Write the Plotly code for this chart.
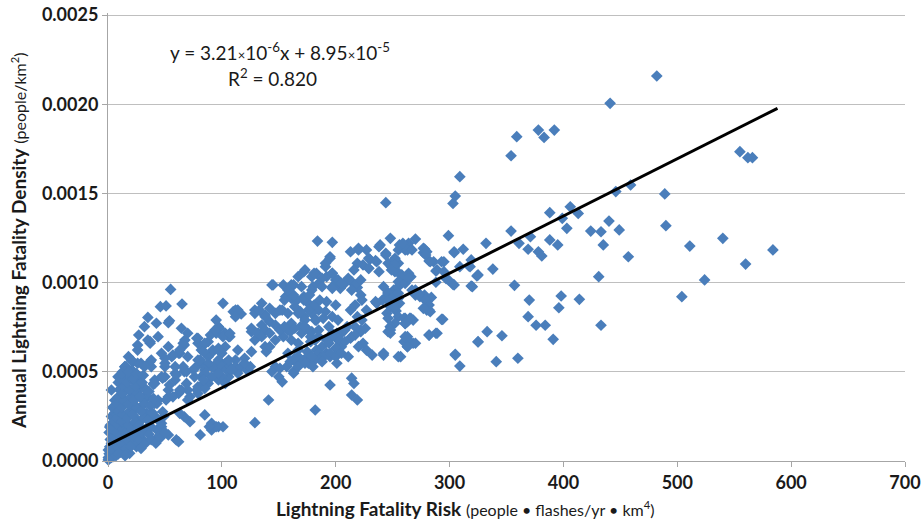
import plotly.graph_objects as go

# Regression line (from the chart's equation)
slope = 3.21e-6
intercept = 8.95e-5
fit_x = [0, 588]

x_ticks = [0, 100, 200, 300, 400, 500, 600, 700]
y_ticks = [0.0, 0.0005, 0.0010, 0.0015, 0.0020, 0.0025]

# Points: (risk, density)
sparse_pts = [
    (441, 20.05e-4), (378, 18.55e-4), (383, 18.14e-4), (392, 18.55e-4), (359, 18.18e-4), (354, 17.11e-4),
    (309, 15.94e-4), (305, 14.85e-4), (303, 14.44e-4), (244, 14.48e-4), (354, 12.89e-4), (388, 13.92e-4),
    (406, 14.25e-4), (413, 13.88e-4), (399, 13.6e-4), (403, 13.04e-4), (424, 12.89e-4), (433, 12.85e-4),
    (435, 12.11e-4), (440, 13.45e-4), (431, 10.33e-4), (433, 7.61e-4), (388, 12.39e-4), (395, 12.11e-4),
    (361, 12.2e-4), (369, 11.87e-4), (378, 11.73e-4), (381, 11.49e-4), (371, 12.57e-4), (332, 12.2e-4),
    (338, 10.76e-4), (324, 10.37e-4), (319, 9.81e-4), (357, 9.85e-4), (370, 9.02e-4), (369, 8.09e-4),
    (376, 7.61e-4), (384, 7.61e-4), (391, 6.82e-4), (398, 9.25e-4), (396, 8.59e-4), (414, 9.06e-4),
    (333, 7.25e-4), (325, 6.67e-4), (346, 7.02e-4), (305, 5.98e-4), (309, 5.32e-4), (341, 5.57e-4),
    (360, 5.76e-4), (294, 7.94e-4), (299, 12.63e-4), (304, 11.73e-4), (312, 11.87e-4), (319, 11.27e-4),
    (482, 21.58e-4), (555, 17.34e-4), (562, 17.0e-4), (566, 17.0e-4), (459, 15.47e-4), (446, 15.1e-4),
    (489, 14.97e-4), (449, 12.95e-4), (490, 13.19e-4), (457, 11.45e-4), (511, 12.05e-4), (540, 12.48e-4),
    (584, 11.83e-4), (560, 11.04e-4), (524, 10.15e-4), (504, 9.21e-4),
]

upper_pts = [
    (270, 12.44e-4), (278, 11.88e-4), (277, 11.68e-4), (282, 11.21e-4), (286, 11.17e-4), (295, 11.17e-4),
    (288, 10.65e-4), (288, 10.02e-4), (297, 10.22e-4), (303, 9.9e-4), (309, 10.89e-4), (317, 10.93e-4),
    (257, 5.85e-4), (242, 5.94e-4), (232, 5.94e-4), (263, 6.97e-4), (268, 6.6e-4), (263, 6.41e-4),
    (260, 6.69e-4), (261, 8.0e-4), (266, 8.0e-4), (268, 7.9e-4), (261, 7.7e-4), (282, 7.06e-4),
    (288, 7.16e-4), (280, 8.93e-4), (282, 8.46e-4), (284, 9.17e-4), (278, 9.3e-4), (270, 9.58e-4),
    (273, 9.4e-4), (246, 9.3e-4), (251, 9.58e-4), (255, 9.77e-4), (261, 10.05e-4), (266, 10.33e-4),
    (264, 12.2e-4), (258, 12.01e-4), (261, 11.83e-4), (255, 11.83e-4), (252, 11.36e-4), (255, 11.08e-4),
    (251, 10.8e-4), (254, 10.61e-4), (258, 10.15e-4), (238, 12.01e-4), (248, 12.48e-4), (244, 11.64e-4),
    (246, 11.08e-4), (238, 10.61e-4), (227, 11.83e-4), (220, 11.83e-4), (213, 11.73e-4), (230, 11.3e-4),
    (224, 10.99e-4), (229, 10.8e-4), (235, 11.23e-4), (184, 12.33e-4), (197, 12.26e-4), (219, 11.08e-4),
    (216, 10.71e-4), (211, 10.24e-4), (208, 9.96e-4), (204, 9.68e-4), (214, 10.05e-4), (219, 9.73e-4),
    (222, 9.3e-4), (223, 9.02e-4), (217, 8.74e-4), (213, 8.46e-4), (219, 8.09e-4), (236, 8.84e-4),
    (244, 9.12e-4), (246, 9.43e-4), (248, 8.65e-4), (253, 8.41e-4), (255, 8.09e-4), (252, 7.72e-4),
    (248, 7.53e-4), (248, 7.16e-4), (195, 11.45e-4), (191, 10.89e-4), (192, 10.33e-4), (197, 10.52e-4),
    (200, 10.15e-4), (202, 9.96e-4), (197, 9.77e-4),
    (256, 12.11e-4), (259, 12.2e-4), (263, 11.83e-4), (267, 11.83e-4), (252, 11.27e-4), (249, 10.89e-4),
    (252, 10.61e-4), (258, 10.43e-4), (264, 10.52e-4), (255, 10.05e-4), (261, 9.96e-4), (264, 10.24e-4),
    (277, 11.92e-4), (280, 11.73e-4), (279, 11.55e-4), (283, 11.17e-4), (293, 11.17e-4), (289, 10.71e-4),
    (295, 10.61e-4), (299, 10.15e-4), (304, 9.87e-4), (304, 11.68e-4), (320, 9.77e-4), (325, 10.43e-4),
    (318, 10.89e-4), (242, 9.77e-4), (246, 9.4e-4), (251, 9.3e-4), (255, 9.12e-4), (256, 8.84e-4),
    (248, 9.02e-4), (251, 8.65e-4), (245, 8.28e-4), (267, 9.58e-4), (270, 9.3e-4), (274, 9.21e-4),
    (279, 9.02e-4), (282, 8.74e-4), (280, 8.46e-4), (283, 8.37e-4), (277, 8.56e-4), (260, 8.0e-4),
    (263, 7.81e-4), (265, 8.0e-4), (261, 7.72e-4), (293, 7.94e-4), (248, 7.53e-4), (246, 7.25e-4),
    (282, 7.06e-4), (289, 7.16e-4), (261, 6.97e-4), (265, 6.69e-4), (270, 6.6e-4), (263, 6.41e-4),
    (242, 6.04e-4), (305, 5.94e-4), (325, 6.69e-4),
]

middle_pts = [
    (173, 10.71e-4), (179, 10.33e-4), (183, 10.52e-4), (188, 10.24e-4), (185, 9.96e-4), (180, 9.77e-4),
    (172, 9.21e-4), (176, 8.84e-4), (180, 8.65e-4), (185, 8.46e-4), (172, 8.09e-4), (179, 8.28e-4),
    (183, 7.9e-4), (173, 7.53e-4), (179, 7.25e-4), (185, 6.97e-4), (178, 6.69e-4), (183, 6.22e-4),
    (175, 5.85e-4), (180, 5.57e-4), (192, 6.04e-4), (195, 5.85e-4), (201, 5.48e-4), (211, 5.85e-4),
    (205, 6.41e-4), (202, 6.78e-4), (197, 7.16e-4), (192, 6.78e-4), (205, 7.16e-4), (210, 7.53e-4),
    (214, 6.97e-4), (222, 7.25e-4), (227, 6.22e-4), (224, 6.6e-4), (220, 6.41e-4), (246, 8.0e-4),
    (248, 7.34e-4), (214, 4.64e-4),
    (220, 11.92e-4), (239, 12.11e-4), (191, 11.08e-4), (195, 11.36e-4), (229, 11.36e-4), (236, 11.17e-4),
    (244, 11.55e-4), (252, 10.99e-4), (181, 10.52e-4), (197, 10.52e-4), (202, 10.15e-4), (217, 9.87e-4),
    (222, 10.15e-4), (229, 10.8e-4), (249, 10.71e-4), (163, 9.87e-4), (170, 9.77e-4), (179, 9.58e-4),
    (188, 9.77e-4), (197, 9.68e-4), (205, 9.96e-4), (214, 9.58e-4), (164, 9.02e-4), (172, 9.02e-4),
    (181, 8.74e-4), (186, 9.02e-4), (192, 8.93e-4), (200, 8.74e-4), (176, 8.46e-4), (191, 8.37e-4),
    (167, 8.28e-4), (173, 7.9e-4), (182, 7.9e-4), (189, 8.0e-4), (197, 8.09e-4), (202, 7.9e-4),
    (161, 7.72e-4), (169, 7.53e-4), (176, 7.34e-4), (185, 7.34e-4), (194, 7.53e-4), (201, 7.16e-4),
    (208, 7.34e-4), (217, 7.53e-4), (223, 7.9e-4), (227, 8.46e-4), (235, 8.93e-4), (241, 9.02e-4),
    (246, 9.02e-4), (251, 9.21e-4), (255, 9.4e-4), (222, 7.34e-4), (226, 7.44e-4), (217, 7.06e-4),
    (213, 6.88e-4), (208, 6.69e-4), (202, 6.88e-4), (197, 6.97e-4), (182, 6.78e-4), (188, 6.41e-4),
    (194, 6.6e-4), (200, 6.32e-4), (185, 6.04e-4), (175, 6.13e-4), (167, 6.22e-4), (164, 5.66e-4),
    (170, 5.66e-4), (176, 5.48e-4), (186, 5.76e-4), (191, 5.94e-4), (195, 6.04e-4), (200, 5.85e-4),
    (205, 6.04e-4), (255, 5.85e-4), (163, 4.92e-4), (195, 4.26e-4), (216, 4.35e-4), (214, 3.7e-4),
    (219, 3.42e-4), (180, 5.29e-4), (188, 5.57e-4),
]

lower_pts = [
    (55, 9.62e-4), (46, 8.65e-4), (51, 8.69e-4), (65, 8.8e-4), (54, 7.86e-4), (53, 7.75e-4),
    (35, 8.05e-4), (32, 7.53e-4), (27, 7.06e-4), (37, 6.6e-4), (101, 8.84e-4), (112, 8.46e-4),
    (117, 8.24e-4), (97, 7.53e-4), (95, 7.16e-4), (106, 6.97e-4), (103, 6.41e-4), (92, 6.13e-4),
    (88, 5.85e-4), (81, 5.48e-4), (79, 6.6e-4), (88, 6.69e-4), (70, 7.16e-4), (67, 6.5e-4),
    (63, 6.04e-4), (56, 5.85e-4), (50, 5.29e-4), (129, 8.46e-4), (135, 8.84e-4), (144, 9.87e-4),
    (154, 9.87e-4), (161, 9.87e-4), (172, 10.61e-4), (156, 9.21e-4), (161, 9.12e-4), (166, 9.02e-4),
    (173, 9.12e-4), (177, 9.3e-4), (138, 8.18e-4), (147, 8.28e-4), (151, 8.46e-4), (142, 7.81e-4),
    (135, 7.62e-4), (147, 7.62e-4), (126, 7.25e-4), (132, 7.16e-4), (138, 7.34e-4), (129, 6.78e-4),
    (138, 6.41e-4), (147, 6.78e-4), (154, 6.97e-4), (158, 7.34e-4), (161, 6.78e-4), (167, 6.6e-4),
    (170, 7.16e-4), (178, 6.97e-4), (158, 6.04e-4), (163, 5.66e-4), (167, 5.85e-4), (173, 5.48e-4),
    (179, 5.85e-4), (153, 4.44e-4), (141, 3.42e-4), (129, 2.15e-4), (182, 2.86e-4), (97, 1.92e-4),
    (91, 1.74e-4), (101, 1.92e-4), (85, 2.58e-4), (81, 1.46e-4), (60, 1.18e-4), (53, 1.46e-4),
    (72, 2.2e-4), (67, 2.48e-4), (63, 2.67e-4),
    (41, 4.54e-4), (50, 4.72e-4), (59, 4.92e-4), (67, 5.01e-4), (76, 5.2e-4), (85, 5.29e-4),
    (94, 5.38e-4), (103, 5.48e-4), (112, 5.66e-4), (120, 5.76e-4), (44, 3.42e-4), (53, 3.6e-4),
    (62, 3.79e-4), (70, 3.98e-4), (79, 4.16e-4), (88, 4.35e-4), (97, 4.54e-4), (106, 4.72e-4),
    (114, 4.92e-4), (123, 5.1e-4),
    (110, 8.37e-4), (114, 8.46e-4), (112, 8.09e-4), (95, 7.9e-4), (98, 7.44e-4), (103, 7.16e-4),
    (107, 6.97e-4), (90, 7.06e-4), (84, 6.5e-4), (82, 6.22e-4), (92, 6.22e-4), (97, 6.32e-4),
    (100, 6.04e-4), (97, 5.66e-4), (91, 5.29e-4), (95, 5.1e-4), (100, 5.29e-4), (104, 5.1e-4),
    (107, 5.29e-4), (112, 5.29e-4), (117, 5.29e-4), (122, 5.1e-4), (125, 5.29e-4), (88, 5.48e-4),
    (85, 5.1e-4), (82, 4.72e-4), (84, 4.35e-4), (85, 4.07e-4), (91, 4.72e-4), (100, 4.72e-4),
    (91, 2.11e-4), (95, 1.92e-4), (126, 6.13e-4), (139, 6.13e-4), (142, 6.41e-4), (144, 5.01e-4),
    (150, 4.72e-4), (147, 5.29e-4), (151, 5.2e-4), (157, 5.29e-4), (163, 5.01e-4), (167, 5.29e-4),
    (160, 5.57e-4), (164, 5.76e-4), (126, 7.44e-4), (131, 7.16e-4), (135, 6.97e-4), (142, 7.16e-4),
    (151, 7.34e-4), (155, 7.53e-4), (160, 7.25e-4), (164, 7.44e-4), (172, 7.53e-4), (129, 8.28e-4),
    (133, 8.46e-4), (138, 8.09e-4), (142, 8.56e-4), (153, 8.46e-4), (158, 8.28e-4), (164, 8.65e-4),
    (169, 8.37e-4), (155, 9.02e-4), (163, 9.3e-4), (158, 9.58e-4), (145, 9.87e-4), (167, 10.33e-4),
    (42.5, 7.72e-4), (64.5, 7.44e-4), (67.5, 6.78e-4), (79, 6.88e-4), (85, 6.6e-4), (94, 7.34e-4),
    (101, 6.97e-4), (107, 7.16e-4), (114, 6.22e-4), (120, 5.48e-4), (106, 5.66e-4), (97, 6.22e-4),
    (79, 5.66e-4), (70, 5.85e-4), (62, 6.04e-4), (53, 6.41e-4), (47, 6.04e-4), (44, 6.97e-4),
    (35, 6.78e-4), (26, 6.22e-4), (29, 5.48e-4), (38, 5.29e-4), (50, 5.48e-4), (59, 5.29e-4),
    (67.5, 5.1e-4), (76, 4.72e-4), (59, 4.54e-4), (47, 4.72e-4), (41, 4.35e-4), (53, 3.98e-4),
    (64.5, 3.98e-4), (70, 3.42e-4), (79, 3.79e-4), (85, 4.92e-4), (97, 4.92e-4), (103, 4.35e-4),
    (108.5, 5.1e-4),
    (26, 6.5e-4), (37, 6.69e-4), (78, 6.88e-4), (66, 6.6e-4), (63, 6.22e-4), (57, 5.94e-4),
    (50, 5.76e-4), (37, 5.57e-4), (22, 5.57e-4), (84, 6.13e-4), (81, 5.66e-4), (75, 5.1e-4),
    (69, 5.01e-4), (84, 4.54e-4), (78, 3.98e-4), (72, 3.6e-4), (89, 1.92e-4), (62, 1.08e-4),
    (43, 3.23e-4), (48, 2.76e-4), (40, 2.58e-4), (34, 2.67e-4), (28, 4.72e-4), (40, 4.35e-4),
    (48, 4.64e-4), (54, 4.26e-4), (60, 4.82e-4), (66, 5.29e-4), (69, 4.35e-4), (63, 3.98e-4),
    (57, 3.6e-4), (51, 3.42e-4),
]

cluster_pts = [
    (15, 5.29e-4), (21, 5.1e-4), (26, 5.48e-4), (32, 5.29e-4), (38, 5.66e-4), (18, 5.85e-4),
    (23, 4.44e-4), (29, 4.16e-4), (35, 3.6e-4), (29, 3.04e-4), (38, 2.67e-4), (35, 1.92e-4),
    (26, 1.55e-4), (44, 1.74e-4), (26, 2.3e-4), (16, 5.29e-4), (13, 5.01e-4), (31, 4.16e-4),
    (31, 3.42e-4), (25, 3.04e-4), (19, 2.67e-4), (13, 2.11e-4), (7, 1.55e-4), (25, 2.11e-4),
    (19, 1.55e-4), (13, 1.18e-4), (37, 1.92e-4), (31, 1.18e-4), (25, 0.8e-4), (43, 1.74e-4),
    (47, 1.92e-4), (13, 0.8e-4), (4, 0.43e-4), (19, 0.43e-4), (20.5, 5.66e-4), (14.7, 5.29e-4),
    (8.8, 4.72e-4), (3, 3.98e-4), (11.7, 3.6e-4), (20.5, 3.23e-4), (29, 2.86e-4), (38, 2.48e-4),
    (47, 2.11e-4), (23.5, 3.98e-4), (32, 3.6e-4), (41, 3.23e-4), (8.8, 2.86e-4), (17.6, 2.48e-4),
    (26.4, 2.11e-4), (35, 1.74e-4), (44, 1.36e-4), (1.5, 1.9e-4), (8.8, 1.74e-4), (17.6, 1.36e-4),
    (26.4, 0.99e-4), (3, 0.99e-4), (11.7, 0.62e-4), (0.3, 0.62e-4), (4.4, 0.24e-4), (0.3, 0.06e-4),
    (0.5, 0.1e-4), (1, 0.4e-4), (1.5, 0.8e-4), (2, 1.2e-4), (1, 1.6e-4), (2, 2.0e-4), (3, 2.5e-4),
    (2.5, 0.5e-4), (0.3, 0.2e-4), (3, 0.2e-4), (4, 0.6e-4), (4, 1.0e-4), (5, 1.4e-4), (4, 1.8e-4),
    (5, 2.2e-4), (6, 2.7e-4), (5, 3.0e-4), (6, 3.4e-4), (4, 3.0e-4), (7, 0.3e-4), (8, 0.8e-4),
    (7, 1.2e-4), (8, 1.6e-4), (9, 2.0e-4), (8, 2.4e-4), (9, 2.8e-4), (8, 3.2e-4), (9, 3.6e-4),
    (10, 4.0e-4), (9, 4.4e-4), (11, 0.5e-4), (12, 1.0e-4), (11, 1.4e-4), (13, 1.8e-4), (12, 2.2e-4),
    (13, 2.6e-4), (12, 3.0e-4), (14, 3.4e-4), (13, 3.8e-4), (14, 4.2e-4), (13, 4.6e-4), (15, 5.0e-4),
    (12, 4.9e-4), (16, 0.7e-4), (17, 1.2e-4), (16, 1.6e-4), (18, 2.0e-4), (17, 2.4e-4), (19, 2.8e-4),
    (18, 3.2e-4), (20, 3.6e-4), (19, 4.0e-4), (17, 4.4e-4), (20, 4.7e-4), (18, 5.0e-4), (22, 1.0e-4),
    (23, 1.4e-4), (21, 1.8e-4), (24, 2.2e-4), (22, 2.6e-4), (25, 3.0e-4), (23, 3.4e-4), (26, 3.8e-4),
    (24, 4.2e-4), (22, 4.6e-4), (25, 4.9e-4), (28, 1.2e-4), (30, 1.6e-4), (27, 2.0e-4), (31, 2.4e-4),
    (29, 2.8e-4), (32, 3.2e-4), (28, 3.6e-4), (33, 4.0e-4), (30, 4.4e-4), (31, 4.8e-4), (36, 1.5e-4),
    (38, 1.9e-4), (35, 2.3e-4), (39, 2.7e-4), (37, 3.1e-4), (40, 3.5e-4), (36, 3.9e-4), (40, 4.3e-4),
    (33, 1.0e-4), (38, 1.2e-4), (42, 1.0e-4), (46, 1.3e-4), (50, 1.6e-4), (44, 2.3e-4), (49, 2.5e-4),
    (20, 0.8e-4), (29, 0.7e-4), (9, 0.4e-4), (15, 0.3e-4),
]

all_pts = sparse_pts + upper_pts + middle_pts + lower_pts + cluster_pts
risk = [p[0] for p in all_pts]
density = [p[1] for p in all_pts]

FONT = "Lato"
TXT = "#1a1a1a"

fig = go.Figure()
fig.add_trace(go.Scatter(
    x=risk, y=density, mode="markers",
    marker=dict(symbol="diamond", size=9, color="#4A7EBB", line=dict(width=0)),
    cliponaxis=False, showlegend=False, hoverinfo="skip",
))
fig.add_trace(go.Scatter(
    x=fit_x, y=[slope * v + intercept for v in fit_x], mode="lines",
    line=dict(color="black", width=3), showlegend=False, hoverinfo="skip",
))

# The y range runs 2px past 0.0025 so that its grid line is kept.
fig.update_layout(
    width=922, height=520,
    margin=dict(l=108, r=17, t=13, b=59, autoexpand=False),
    paper_bgcolor="white", plot_bgcolor="white",
    font=dict(family=FONT, color=TXT),
    xaxis=dict(
        range=[0, 700], tickvals=x_ticks, ticktext=[str(v) for v in x_ticks],
        showgrid=False, zeroline=False, showline=True, linecolor="#a6a6a6", linewidth=1,
        ticks="outside", ticklen=5, tickcolor="#a6a6a6",
        tickfont=dict(family=FONT, size=18, color=TXT, weight="bold"),
        ticklabeloverflow="allow", automargin=False,
    ),
    yaxis=dict(
        range=[0, 0.0025112], tickvals=y_ticks, ticktext=[f"{v:.4f}" for v in y_ticks],
        showgrid=True, gridcolor="#bfbfbf", gridwidth=1,
        zeroline=False, showline=True, linecolor="#a6a6a6", linewidth=1,
        ticks="outside", ticklen=5, tickcolor="#a6a6a6",
        tickfont=dict(family=FONT, size=18, color=TXT, weight="bold"),
        ticklabeloverflow="allow", automargin=False,
    ),
    annotations=[
        dict(xref="paper", yref="paper", x=0.448, y=-0.105, xanchor="center", yanchor="middle",
             showarrow=False,
             text="<b>Lightning Fatality Risk</b> <span style='font-size:16px'>(people • flashes/yr • km<sup>4</sup>)</span>",
             font=dict(family=FONT, size=19, color=TXT)),
        dict(xref="paper", yref="paper", x=-0.113, y=0.493, xanchor="center", yanchor="middle",
             showarrow=False, textangle=-90,
             text="<b>Annual Lightning Fatality Density</b> <span style='font-size:16px'>(people/km<sup>2</sup>)</span>",
             font=dict(family=FONT, size=19, color=TXT)),
        dict(xref="paper", yref="paper", x=0.216, y=0.913, xanchor="center", yanchor="middle",
             showarrow=False,
             text="y = 3.21<span style='font-size:13px'>×</span>10<sup>-6</sup>x + 8.95<span style='font-size:13px'>×</span>10<sup>-5</sup>",
             font=dict(family=FONT, size=19, color=TXT)),
        dict(xref="paper", yref="paper", x=0.207, y=0.855, xanchor="center", yanchor="middle",
             showarrow=False, text="R<sup>2</sup> = 0.820",
             font=dict(family=FONT, size=19, color=TXT)),
    ],
)

# Remove the page's default 8px body margin so the 922x520 figure fills the window,
# and hide the mode bar.
fig.write_html(
    "out.html",
    config={"displayModeBar": False},
    post_script="document.body.style.margin='0';document.body.style.overflow='hidden';",
)
